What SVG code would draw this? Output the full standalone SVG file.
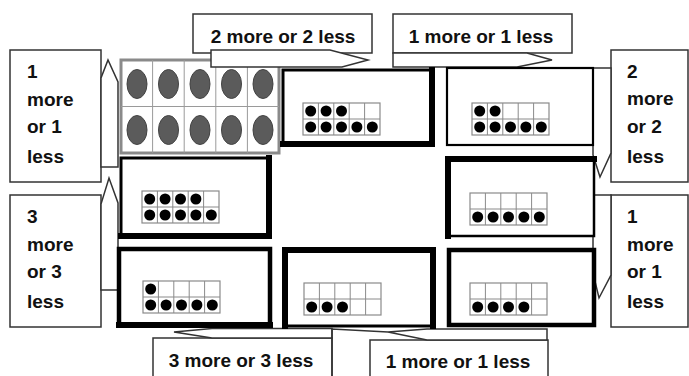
<svg xmlns="http://www.w3.org/2000/svg" xmlns:xlink="http://www.w3.org/1999/xlink" width="689" height="376" viewBox="0 0 689 376">
<style>
.lbl{font-family:"Liberation Sans",Arial,sans-serif;font-weight:bold;font-size:19px;fill:#111}
.call{fill:#fff;stroke:#333;stroke-width:1.5}
.ptr{fill:#fff;stroke:#333;stroke-width:1.5;stroke-linejoin:miter}
.box{fill:#fff;stroke:#000;stroke-width:3}
.thk{fill:none;stroke:#000;stroke-width:6;stroke-linecap:square}
.grid{fill:#fff;stroke:#8a8a8a;stroke-width:1.2}
.dot{fill:#000}
.oval{fill:#5b5b5b;stroke:#444;stroke-width:1}
</style>
<defs>
<g id="tf">
<rect class="grid" x="0" y="0" width="77" height="32"/>
<path d="M15.4 0V32M30.8 0V32M46.2 0V32M61.6 0V32M0 16H77" fill="none" stroke="#8a8a8a" stroke-width="1"/>
</g>
</defs>
<rect width="689" height="376" fill="#fff"/>

<g id="node-big-frame">
<rect x="121" y="60" width="158" height="93" fill="#fff" stroke="#8a8a8a" stroke-width="3"/>
<path d="M152.6 60V153M184.2 60V153M215.8 60V153M247.4 60V153M121 106.5H279" fill="none" stroke="#9a9a9a" stroke-width="1"/>
<g class="oval">
<ellipse cx="137" cy="84" rx="10" ry="14.5"/><ellipse cx="168.5" cy="84" rx="10" ry="14.5"/><ellipse cx="200" cy="84" rx="10" ry="14.5"/><ellipse cx="231.5" cy="84" rx="10" ry="14.5"/><ellipse cx="263" cy="84" rx="10" ry="14.5"/>
<ellipse cx="137" cy="130" rx="10" ry="14.5"/><ellipse cx="168.5" cy="130" rx="10" ry="14.5"/><ellipse cx="200" cy="130" rx="10" ry="14.5"/><ellipse cx="231.5" cy="130" rx="10" ry="14.5"/><ellipse cx="263" cy="130" rx="10" ry="14.5"/>
</g>
</g>

<g id="callout-top-1">
<rect class="call" x="193" y="14" width="179" height="39"/>
<text class="lbl" x="283" y="43" text-anchor="middle">2 more or 2 less</text>
</g>
<g id="callout-top-2">
<rect class="call" x="393" y="14" width="179" height="39"/>
<text class="lbl" x="481" y="43" text-anchor="middle">1 more or 1 less</text>
</g>
<g id="callout-left-1">
<rect class="call" x="10" y="50" width="91" height="132"/>
<text class="lbl"><tspan x="27" y="78">1</tspan><tspan x="27" y="106">more</tspan><tspan x="27" y="133">or 1</tspan><tspan x="27" y="163">less</tspan></text>
</g>
<g id="callout-left-2">
<rect class="call" x="10" y="195" width="91" height="132"/>
<text class="lbl"><tspan x="27" y="223">3</tspan><tspan x="27" y="251">more</tspan><tspan x="27" y="278">or 3</tspan><tspan x="27" y="308">less</tspan></text>
</g>
<g id="callout-right-1">
<rect class="call" x="611" y="50" width="77" height="132"/>
<text class="lbl"><tspan x="627" y="78">2</tspan><tspan x="627" y="105">more</tspan><tspan x="627" y="133">or 2</tspan><tspan x="627" y="163">less</tspan></text>
</g>
<g id="callout-right-2">
<rect class="call" x="611" y="195" width="77" height="132"/>
<text class="lbl"><tspan x="627" y="223">1</tspan><tspan x="627" y="251">more</tspan><tspan x="627" y="278">or 1</tspan><tspan x="627" y="308">less</tspan></text>
</g>
<g id="callout-bottom-1">
<rect class="call" x="153" y="338" width="179" height="50"/>
<text class="lbl" x="241" y="367" text-anchor="middle">3 more or 3 less</text>
</g>
<g id="callout-bottom-2">
<rect class="call" x="370" y="340" width="178" height="50"/>
<text class="lbl" x="458" y="368" text-anchor="middle">1 more or 1 less</text>
</g>

<g id="connectors">
<polygon class="ptr" points="211,50 330,50 368,60 342,67 211,67"/>
<polygon class="ptr" points="393,53 527,53 552,60 517,67 393,67"/>
<polygon class="ptr" points="101,167 101,78 108,60 118,82 118,167"/>
<polygon class="ptr" points="101,290 101,204 109,178 118,203 118,290"/>
<polygon class="ptr" points="593,68 611,68 611,153 600,177 593,155"/>
<polygon class="ptr" points="593,195 611,195 611,275 599,298 593,273"/>
<polygon class="ptr" points="332,338 332,328.5 212,328.5 174,332 212,338"/>
<polygon class="ptr" points="547,340 547,329 427,329 388,332 427,340"/>
<polyline points="332,376 332,329 388,332" fill="none" stroke="#333" stroke-width="1.5"/>
</g>

<g id="node-a">
<rect class="box" x="283" y="70" width="149" height="74"/>
<path class="thk" d="M432 70V144H283"/>
<use xlink:href="#tf" href="#tf" x="303" y="103"/>
<g class="dot"><circle cx="310.7" cy="111" r="5.5"/><circle cx="326.1" cy="111" r="5.5"/><circle cx="341.5" cy="111" r="5.5"/>
<circle cx="310.7" cy="127" r="5.5"/><circle cx="326.1" cy="127" r="5.5"/><circle cx="341.5" cy="127" r="5.5"/><circle cx="356.9" cy="127" r="5.5"/><circle cx="372.3" cy="127" r="5.5"/></g>
</g>

<g id="node-b">
<rect x="447" y="68" width="146" height="77" fill="#fff" stroke="#000" stroke-width="2.2"/>
<use xlink:href="#tf" href="#tf" x="472" y="103"/>
<g class="dot"><circle cx="479.7" cy="111" r="5.5"/><circle cx="495.1" cy="111" r="5.5"/>
<circle cx="479.7" cy="127" r="5.5"/><circle cx="495.1" cy="127" r="5.5"/><circle cx="510.5" cy="127" r="5.5"/><circle cx="525.9" cy="127" r="5.5"/><circle cx="541.3" cy="127" r="5.5"/></g>
</g>

<g id="node-c">
<rect class="box" x="121" y="158" width="148" height="78"/>
<path class="thk" d="M269 158V236H121"/>
<use xlink:href="#tf" href="#tf" x="142" y="191"/>
<g class="dot"><circle cx="149.7" cy="199" r="5.5"/><circle cx="165.1" cy="199" r="5.5"/><circle cx="180.5" cy="199" r="5.5"/><circle cx="195.9" cy="199" r="5.5"/>
<circle cx="149.7" cy="215" r="5.5"/><circle cx="165.1" cy="215" r="5.5"/><circle cx="180.5" cy="215" r="5.5"/><circle cx="195.9" cy="215" r="5.5"/><circle cx="211.3" cy="215" r="5.5"/></g>
</g>

<g id="node-d">
<rect x="448" y="159" width="146" height="77" fill="#fff" stroke="#000" stroke-width="2.5"/>
<path class="thk" d="M448 236V159H594"/>
<use xlink:href="#tf" href="#tf" x="470" y="193"/>
<g class="dot"><circle cx="477.7" cy="217" r="5.5"/><circle cx="493.1" cy="217" r="5.5"/><circle cx="508.5" cy="217" r="5.5"/><circle cx="523.9" cy="217" r="5.5"/><circle cx="539.3" cy="217" r="5.5"/></g>
</g>

<g id="node-e">
<rect x="119" y="249" width="151" height="76" fill="#fff" stroke="#000" stroke-width="4.5"/>
<path class="thk" d="M119 325H270"/>
<use xlink:href="#tf" href="#tf" x="143" y="281"/>
<g class="dot"><circle cx="150.7" cy="289" r="5.5"/>
<circle cx="150.7" cy="305" r="5.5"/><circle cx="166.1" cy="305" r="5.5"/><circle cx="181.5" cy="305" r="5.5"/><circle cx="196.9" cy="305" r="5.5"/><circle cx="212.3" cy="305" r="5.5"/></g>
</g>

<g id="node-f">
<rect x="285" y="250" width="148" height="76" fill="#fff" stroke="#000" stroke-width="3"/>
<path class="thk" d="M285 326V250H433V326"/>
<use xlink:href="#tf" href="#tf" x="304" y="283"/>
<g class="dot"><circle cx="311.7" cy="307" r="5.5"/><circle cx="327.1" cy="307" r="5.5"/><circle cx="342.5" cy="307" r="5.5"/></g>
</g>

<g id="node-g">
<rect x="449" y="250" width="145" height="75" fill="#fff" stroke="#000" stroke-width="4.5"/>
<use xlink:href="#tf" href="#tf" x="470" y="283"/>
<g class="dot"><circle cx="477.7" cy="307" r="5.5"/><circle cx="493.1" cy="307" r="5.5"/><circle cx="508.5" cy="307" r="5.5"/><circle cx="523.9" cy="307" r="5.5"/></g>
</g>
</svg>
